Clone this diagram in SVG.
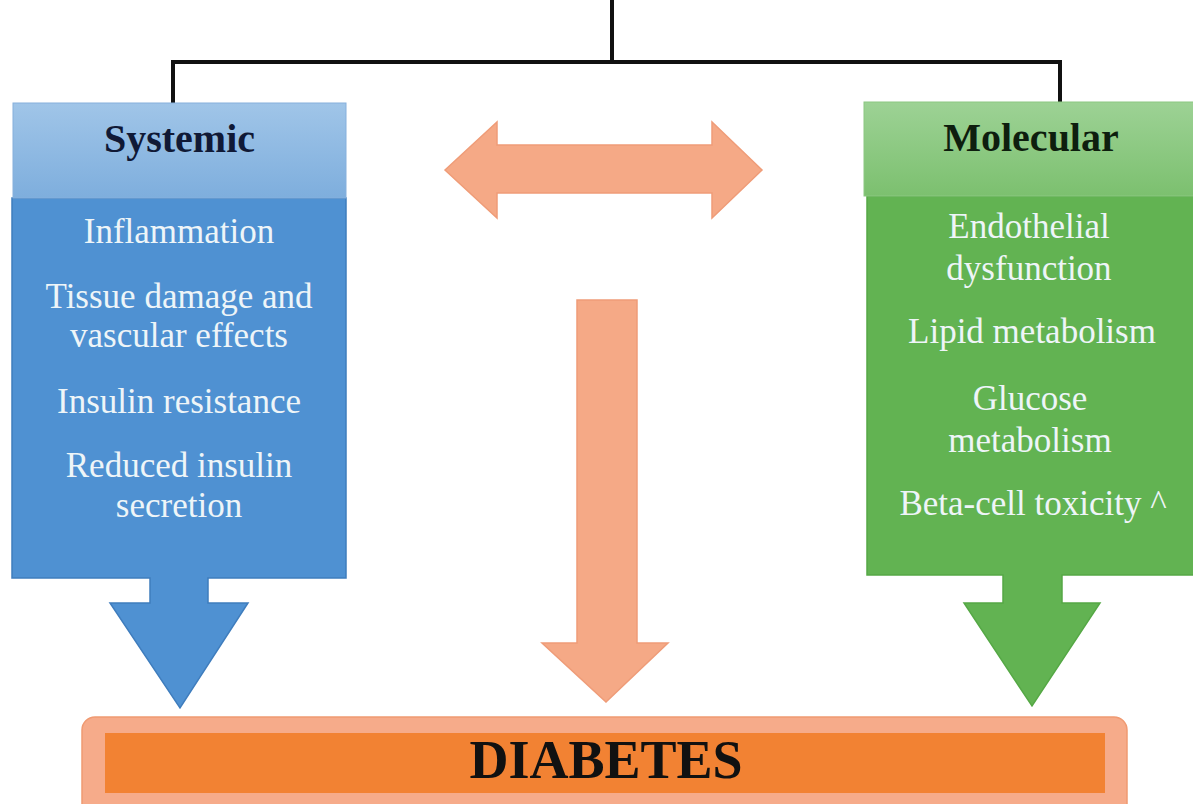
<svg xmlns="http://www.w3.org/2000/svg" width="1193" height="804" viewBox="0 0 1193 804">
<style>
.hdr{font-family:"Liberation Serif","Times New Roman",serif;font-weight:bold;font-size:40px;text-anchor:middle}
.itm{font-family:"Liberation Serif","Times New Roman",serif;font-size:35px;fill:#EEF5F8;text-anchor:middle}
.conn{stroke:#111;stroke-width:4;fill:none}
.salmon{fill:#F5A986;stroke:#EF9C78;stroke-width:1.5}
</style>
<defs>
<linearGradient id="gb" x1="0" y1="0" x2="0" y2="1">
<stop offset="0" stop-color="#A0C5E8"/><stop offset="1" stop-color="#7EAEDD"/>
</linearGradient>
<linearGradient id="gg" x1="0" y1="0" x2="0" y2="1">
<stop offset="0" stop-color="#9DD295"/><stop offset="1" stop-color="#7CC06F"/>
</linearGradient>
</defs>
<rect width="1193" height="804" fill="#fff"/>
<g id="connectors">
<path class="conn" d="M612,0 V62 M171,62 H1062 M173,60 V104 M1060,60 V103"/>
<path id="double-arrow" class="salmon" d="M445,170 L497,122 V145 H712 V122 L762,170 L712,218 V193 H497 V218 Z"/>
<path id="center-arrow" class="salmon" d="M577,300 H637 V643 H668 L606,702 L542,643 H577 Z"/>
</g>
<g id="systemic">
<path d="M12,198 H346 V578 H208 V603 H248 L180,708 L110,603 H150 V578 H12 Z" fill="#4F91D2" stroke="#3F7DBD" stroke-width="1.5"/>
<rect x="13" y="103" width="333" height="95" fill="url(#gb)" stroke="#86B0DC" stroke-width="1"/>
<text class="hdr" x="179.5" y="152" fill="#101936">Systemic</text>
<text class="itm" x="179" y="243">Inflammation</text>
<text class="itm" x="179" y="308">Tissue damage and</text>
<text class="itm" x="179" y="347">vascular effects</text>
<text class="itm" x="179" y="413">Insulin resistance</text>
<text class="itm" x="179" y="477">Reduced insulin</text>
<text class="itm" x="179" y="517">secretion</text>
</g>
<g id="molecular">
<path d="M867,196 H1200 V575 H1062 V603 H1100 L1032,706 L964,603 H1003 V575 H867 Z" fill="#62B352" stroke="#55A845" stroke-width="1.5"/>
<rect x="864" y="102" width="340" height="94" fill="url(#gg)" stroke="#8CC882" stroke-width="1"/>
<text class="hdr" x="1031" y="151" fill="#0E1E0E">Molecular</text>
<text class="itm" x="1029" y="238">Endothelial</text>
<text class="itm" x="1029" y="280">dysfunction</text>
<text class="itm" x="1032" y="343">Lipid metabolism</text>
<text class="itm" x="1030" y="410">Glucose</text>
<text class="itm" x="1030" y="452">metabolism</text>
<text class="itm" x="1033" y="515">Beta-cell toxicity ^</text>
</g>
<g id="diabetes">
<rect x="82" y="717" width="1045" height="100" rx="13" fill="#F6AB8A" stroke="#F09A72" stroke-width="1.5"/>
<rect x="105" y="733" width="1000" height="60" fill="#F28233"/>
<text x="606" y="778" font-family="'Liberation Serif','Times New Roman',serif" font-weight="bold" font-size="54" text-anchor="middle" fill="#111">DIABETES</text>
</g>
</svg>
